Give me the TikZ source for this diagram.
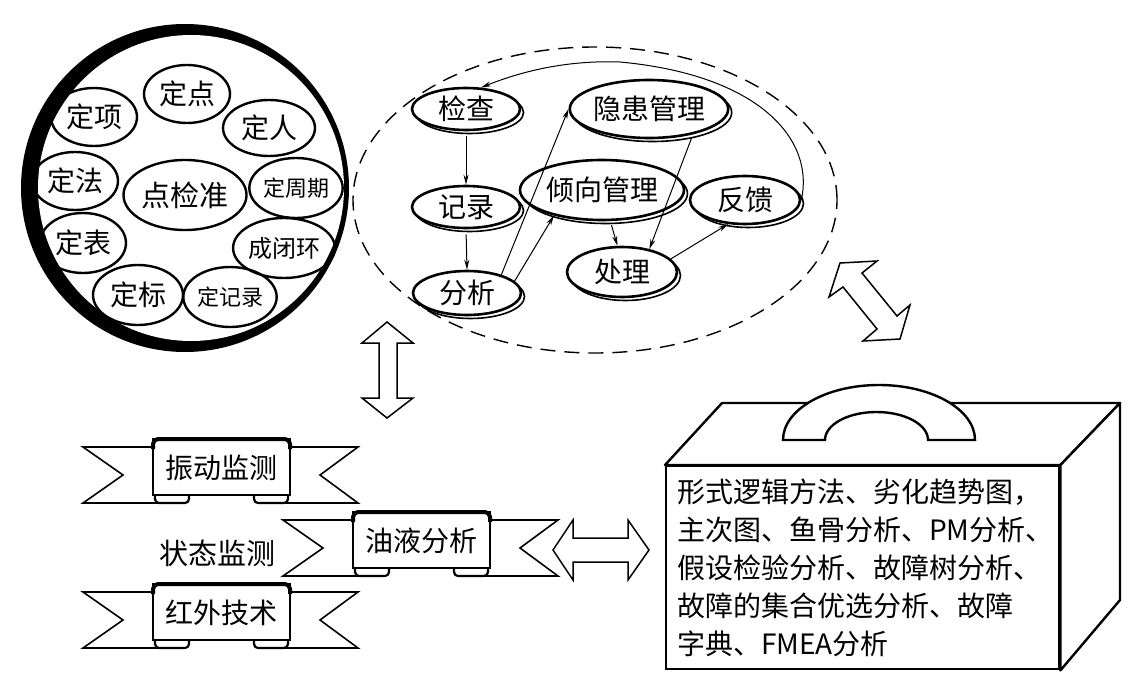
\documentclass[tikz,border=0pt]{standalone}
\usepackage{fontspec}
\setmainfont{Noto Sans CJK SC}
\usetikzlibrary{shapes.geometric,arrows.meta,shadows}

\newcommand\fs[1]{\fontsize{#1}{#1}\selectfont}

\tikzset{
  ring/.style={ellipse, draw, line width=2.4pt, inner sep=0pt},
  flow/.style={ellipse, draw, fill=white, line width=2.6pt, inner sep=0pt, font=\fs{28},
    copy shadow={shadow xshift=3.5pt, shadow yshift=-3.5pt, line width=1.6pt}},
  link/.style={line width=1pt, -{Stealth[length=10pt,width=5pt]}},
  hollow/.style={draw, fill=white, line width=1.5pt, line join=miter},
  rib/.style={draw, fill=white, line width=1.6pt, line join=miter},
}

\newcommand\ribbon[4]{%
\begin{scope}[shift={(#2,#3)}]
  \draw[rib] (14,10) -- (-70,10) -- (-30,38) -- (-70,66) -- (14,66);
  \draw[rib] (123,10) -- (205,10) -- (167,38) -- (205,66) -- (123,66);
  \draw[rib, line width=2.2pt, rounded corners=4pt] (2,50) rectangle (36,66);
  \draw[rib, line width=2.2pt, rounded corners=4pt] (101,50) rectangle (135,66);
  \draw[rib] (0,58) -- (0,2) -- (137,2) -- (137,58) -- cycle;
  \draw[line width=4pt, rounded corners=5pt] (0,12) -- (0,2) -- (137,2) -- (137,12);
  \node[font=\fs{28}, inner sep=0pt] (#1) at (68.5,31) {#4};
\end{scope}}

\begin{document}
\begin{tikzpicture}[x=1pt,y=-1pt]
\useasboundingbox[fill=white] (0,0) rectangle (1142,679);

% ---- big ring
\fill (185,188) circle (164pt);
\fill[white] (191,188) circle (153pt);

\node[ring, minimum width=86pt, minimum height=58pt, font=\fs{28}] (dd) at (187,94) {定点};
\node[ring, minimum width=86pt, minimum height=58pt, font=\fs{28}] (dx) at (94,117) {定项};
\node[ring, minimum width=92pt, minimum height=56pt, font=\fs{28}] (dr) at (269,128) {定人};
\node[ring, minimum width=86pt, minimum height=58pt, font=\fs{28}] (df) at (75,181) {定法};
\node[ring, minimum width=116pt, minimum height=70pt, font=\fs{29}] (djz) at (185,195) {点检准};
\node[ring, minimum width=92pt, minimum height=60pt, font=\fs{22}] (dzq) at (296,188) {定周期};
\node[ring, minimum width=86pt, minimum height=60pt, font=\fs{28}] (db) at (83,243) {定表};
\node[ring, minimum width=88pt, minimum height=60pt, font=\fs{24}] (cbh) at (284,248) {成闭环};
\node[ring, minimum width=90pt, minimum height=60pt, font=\fs{28}] (dbz) at (138,295) {定标};
\node[ring, minimum width=90pt, minimum height=60pt, font=\fs{22}] (djl) at (230,297) {定记录};

% ---- management cycle
\node[ellipse, draw, dash pattern=on 15pt off 9pt, line width=1.4pt,
      minimum width=484pt, minimum height=306pt] (loop) at (595,200) {};

\node[flow, minimum width=108pt, minimum height=42pt] (jc) at (466,109) {检查};
\node[flow, minimum width=158pt, minimum height=58pt] (yh) at (649,109) {隐患管理};
\node[flow, minimum width=108pt, minimum height=42pt] (jl) at (466,207) {记录};
\node[flow, minimum width=164pt, minimum height=60pt] (qx) at (602,190) {倾向管理};
\node[flow, minimum width=110pt, minimum height=48pt] (fk) at (745,200) {反馈};
\node[flow, minimum width=110pt, minimum height=50pt] (cl) at (622,272) {处理};
\node[flow, minimum width=108pt, minimum height=44pt] (fx) at (467,293) {分析};

\draw[link, shorten <=5pt] (jc.south) -- (jl.north);
\draw[link, shorten <=5pt] (jl.south) -- (fx.north);
\draw[link] (fx.28) -- (yh.west);
\draw[link] (fx.14) -- (qx.208);
\draw[link, shorten <=4pt] (qx.285) -- (cl.100);
\draw[link, shorten <=3pt] (yh.-30) -- (cl.40);
\draw[link] (cl.15) -- (fk.235);
\draw[link] (fk.east) .. controls (815,140) and (760,75) .. (620,62)
                      .. controls (565,60) and (520,72) .. (jc.55);

% ---- hollow double arrows
\draw[hollow] (387,322) -- (413,343) -- (397,343) -- (397,398) -- (413,398) -- (387,418)
  -- (362,398) -- (379,398) -- (379,343) -- (362,343) -- cycle;
\draw[hollow] (553,550) -- (573,520) -- (573,538) -- (628,538) -- (628,520) -- (649,550)
  -- (628,580) -- (628,562) -- (573,562) -- (573,580) -- cycle;
\draw[hollow] (840,263) -- (877,261) -- (862,273) -- (897,316) -- (910,305) -- (900,339)
  -- (863,341) -- (877,329) -- (843,287) -- (829,297) -- cycle;

% ---- ribbons
\ribbon{zd}{153}{437}{振动监测}
\ribbon{yy}{353}{510}{油液分析}
\ribbon{hw}{153}{582}{红外技术}
\node[font=\fs{29}, inner sep=0pt] (zt) at (217,553) {状态监测};

% ---- toolbox
\node[draw, line width=2.4pt, minimum width=393pt, minimum height=203pt, anchor=north west,
      inner sep=0pt] (box) at (665,465) {};
\draw[line width=2.4pt, line join=round, fill=white]
  (box.north west) -- (722,403) -- (1120,403) -- (box.north east) -- cycle;
\draw[line width=2.4pt, line join=round, fill=white]
  (box.north east) -- (1120,403) -- (1120,600) -- (box.south east) -- cycle;
\draw[line width=2.4pt, fill=white] (783,440) arc[start angle=180, end angle=0, x radius=96pt, y radius=55pt]
  -- (928,440) arc[start angle=0, end angle=180, x radius=51.5pt, y radius=28pt] -- cycle;
\node[anchor=north west, align=left, inner sep=0pt, font=\fontsize{28}{38}\selectfont]
  (tools) at (677,479) {形式逻辑方法、劣化趋势图，\\主次图、鱼骨分析、PM分析、\\假设检验分析、故障树分析、\\故障的集合优选分析、故障\\字典、FMEA分析};
\end{tikzpicture}
\end{document}
